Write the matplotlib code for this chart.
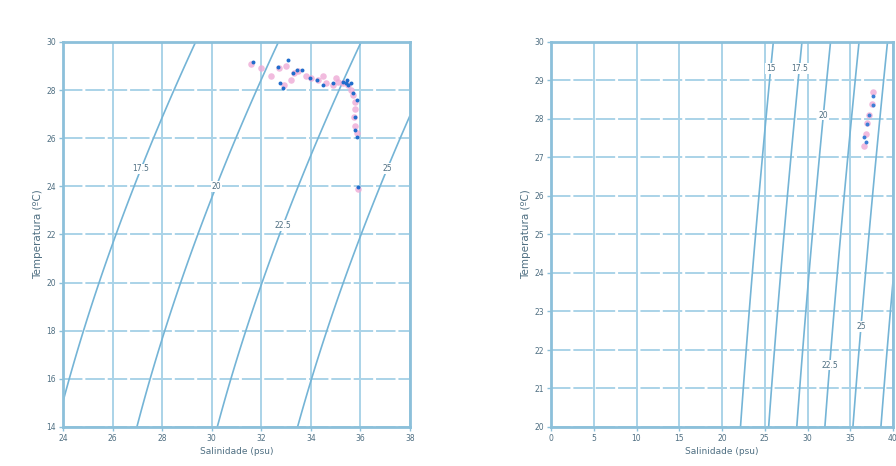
import numpy as np
import matplotlib
matplotlib.use('Agg')
import matplotlib.pyplot as plt

# colours
grid_col = '#aad3e8'
spine_col = '#8cc0da'
line_col = '#74b4d6'
text_col = '#4f6f82'

# sigma-t levels drawn on each panel
levels_left = [17.5, 20.0, 22.5, 25.0]
levels_right = [15.0, 17.5, 20.0, 22.5, 25.0, 27.5]

# where each sigma-t label sits (salinity, temperature)
labpos_left = [(27.2, 24.7), (30.05, 24.05), (32.9, 22.35), (36.85, 24.85)]
labpos_right = [(26.0, 29.3), (29.3, 29.3), (31.9, 28.1), (33.0, 21.6), (36.8, 22.6)]

# CTD casts: salinity (psu) / temperature (degC)
sal_pink = [31.6, 32.0, 32.4, 32.7, 33.0, 33.3, 33.5, 33.8, 34.0, 34.3, 34.6, 34.9,
            35.1, 35.3, 35.5, 35.6, 35.7, 35.8, 35.8, 35.75, 35.8, 35.85, 33.2, 32.9,
            34.5, 35.0, 35.9]
temp_pink = [29.1, 28.9, 28.6, 28.9, 29.0, 28.7, 28.8, 28.6, 28.5, 28.4, 28.3, 28.2,
             28.35, 28.3, 28.2, 28.0, 27.8, 27.5, 27.2, 26.9, 26.5, 26.2, 28.4, 28.2,
             28.6, 28.5, 23.9]
sal_blue = [31.66, 33.07, 32.67, 33.44, 33.64, 33.27, 33.96, 34.24, 34.48, 34.89, 35.29,
            35.45, 35.49, 35.6, 35.4, 35.69, 35.85, 35.77, 35.77, 35.85, 35.9, 32.75, 32.87]
temp_blue = [29.17, 29.25, 28.96, 28.84, 28.84, 28.71, 28.5, 28.42, 28.21, 28.3, 28.34,
             28.42, 28.21, 28.3, 28.3, 27.88, 27.59, 26.88, 26.34, 26.05, 23.97, 28.3, 28.09]

sal_pink2 = [36.6, 36.8, 37.0, 37.2, 37.5, 37.7]
temp_pink2 = [27.3, 27.6, 27.9, 28.1, 28.4, 28.7]
sal_blue2 = [36.6, 36.8, 36.95, 37.2, 37.65, 37.7]
temp_blue2 = [27.53, 27.4, 27.87, 28.1, 28.36, 28.6]


def sigma_t(S, T):
    # UNESCO EOS-80 at surface pressure
    rw = (999.842594 + 6.793952e-2*T - 9.095290e-3*T**2 + 1.001685e-4*T**3
          - 1.120083e-6*T**4 + 6.536332e-9*T**5)
    A = 8.24493e-1 - 4.0899e-3*T + 7.6438e-5*T**2 - 8.2467e-7*T**3 + 5.3875e-9*T**4
    B = -5.72466e-3 + 1.0227e-4*T - 1.6546e-6*T**2
    C = 4.8314e-4
    return rw + A*S + B*S**1.5 + C*S**2 - 1000.0


def style(ax, xticks, yticks):
    ax.set_xticks(xticks)
    ax.set_yticks(yticks)
    ax.set_xlim(xticks[0], xticks[-1])
    ax.set_ylim(yticks[0], yticks[-1])
    ax.xaxis.grid(True, color=grid_col, lw=1.4, ls='-')
    ax.yaxis.grid(True, color=grid_col, lw=1.4, ls=(0, (10, 1.5)))
    ax.set_axisbelow(True)
    for sp in ax.spines.values():
        sp.set_color(spine_col)
        sp.set_linewidth(2)
    ax.tick_params(colors=spine_col, labelcolor=text_col, labelsize=5.5,
                   length=3, width=1, pad=2)
    ax.set_xlabel('Salinidade (psu)', fontsize=6.5, color=text_col, labelpad=3)
    ax.set_ylabel('Temperatura (ºC)', fontsize=7.5, color=text_col, labelpad=2)


def draw_sigma(ax, levels, labpos):
    s0, s1 = ax.get_xlim()
    t0, t1 = ax.get_ylim()
    S, T = np.meshgrid(np.linspace(s0, s1, 300), np.linspace(t0, t1, 300))
    cs = ax.contour(S, T, sigma_t(S, T), levels=levels, colors=line_col, linewidths=1.2)
    labels = ax.clabel(cs, inline=False, fontsize=5.5, fmt=lambda v: f'{v:g}',
                       manual=labpos, colors=text_col)
    # upright labels on a small white patch over the line
    for t in labels:
        t.set_rotation(0)
        t.set_bbox(dict(facecolor='white', edgecolor='none', pad=0.6))


fig = plt.figure(figsize=(8.96, 4.66), dpi=100)
axl = fig.add_axes([63/896, 1 - 427/466, 347/896, 385/466])
axr = fig.add_axes([551/896, 1 - 427/466, 342/896, 385/466])

style(axl, list(range(24, 39, 2)), list(range(14, 31, 2)))
style(axr, list(range(0, 41, 5)), list(range(20, 31)))

draw_sigma(axl, levels_left, labpos_left)
draw_sigma(axr, levels_right, labpos_right)

axl.scatter(sal_pink, temp_pink, s=22, color='#eeaad6', alpha=0.8, lw=0, zorder=3)
axl.scatter(sal_blue, temp_blue, s=8, color='#1f6ccc', lw=0, zorder=4)
axr.scatter(sal_pink2, temp_pink2, s=22, color='#eeaad6', alpha=0.8, lw=0, zorder=3)
axr.scatter(sal_blue2, temp_blue2, s=8, color='#3d7fd6', lw=0, zorder=4)

fig.savefig('out.png', dpi=100)
